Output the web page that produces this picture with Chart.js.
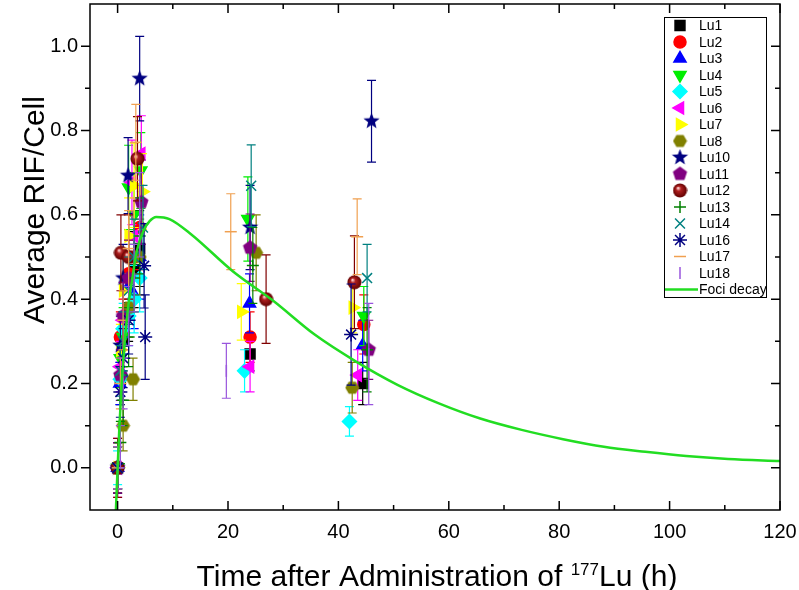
<!DOCTYPE html>
<html>
<head>
<meta charset="utf-8">
<script src="https://cdn.jsdelivr.net/npm/chart.js@4.4.1/dist/chart.umd.min.js"></script>
<style>
  html, body { margin: 0; padding: 0; background: #fff; }
</style>
</head>
<body>
<canvas id="chart" width="799" height="590"></canvas>
<script>
// Values: time (h), mean RIF/cell, error
const lu1X = [0, 0.5, 1, 2, 3, 4, 24, 44.4];
const lu1Y = [0, 0.21, 0.30, 0.38, 0.47, 0.52, 0.27, 0.20];
const lu1Err = [0.05, 0.06, 0.07, 0.08, 0.09, 0.09, 0.04, 0.05];

const lu2X = [0, 0.5, 1, 2, 3, 4, 24, 44.6];
const lu2Y = [0, 0.31, 0.32, 0.46, 0.50, 0.57, 0.31, 0.34];
const lu2Err = [0.06, 0.06, 0.08, 0.08, 0.10, 0.10, 0.06, 0.07];

const lu3X = [0, 0.4, 1, 2, 3, 4, 23.9, 44.4];
const lu3Y = [0, 0.20, 0.22, 0.43, 0.41, 0.50, 0.39, 0.29];
const lu3Err = [0.05, 0.05, 0.06, 0.08, 0.08, 0.10, 0.07, 0.06];

const lu4X = [0, 0.5, 1, 2, 3, 4.2, 23.6, 44.6];
const lu4Y = [0, 0.26, 0.31, 0.665, 0.60, 0.705, 0.59, 0.36];
const lu4Err = [0.05, 0.07, 0.07, 0.10, 0.10, 0.09, 0.10, 0.07];

const lu5X = [0, 0.5, 1, 2, 3, 4, 23, 42];
const lu5Y = [0, 0.21, 0.33, 0.36, 0.40, 0.45, 0.23, 0.11];
const lu5Err = [0.04, 0.05, 0.06, 0.07, 0.08, 0.08, 0.05, 0.035];

const lu6X = [0, 0.5, 1, 2.6, 3, 4.3, 24, 43.5];
const lu6Y = [0, 0.24, 0.35, 0.677, 0.55, 0.745, 0.24, 0.22];
const lu6Err = [0.07, 0.06, 0.07, 0.10, 0.09, 0.09, 0.06, 0.06];

const lu7X = [0, 0.5, 1, 2, 3, 4.5, 22.4, 42.6];
const lu7Y = [0, 0.28, 0.42, 0.55, 0.67, 0.655, 0.37, 0.38];
const lu7Err = [0.05, 0.06, 0.08, 0.09, 0.10, 0.09, 0.067, 0.06];

const lu8X = [0, 1, 2, 2.8, 4, 25.1, 42.5];
const lu8Y = [0, 0.10, 0.38, 0.21, 0.50, 0.51, 0.19];
const lu8Err = [0.06, 0.06, 0.07, 0.05, 0.09, 0.09, 0.06];

const lu10X = [0, 0.5, 1, 1.9, 4, 24, 46];
const lu10Y = [0, 0.29, 0.45, 0.693, 0.923, 0.57, 0.822];
const lu10Err = [0.06, 0.07, 0.08, 0.09, 0.10, 0.10, 0.097];

const lu11X = [0, 0.5, 1, 2, 4.3, 24, 45.5];
const lu11Y = [0, 0.22, 0.36, 0.45, 0.63, 0.522, 0.28];
const lu11Err = [0.06, 0.06, 0.08, 0.09, 0.10, 0.08, 0.07];

const lu12X = [0, 0.6, 2, 3.6, 26.9, 42.9];
const lu12Y = [0, 0.51, 0.50, 0.733, 0.40, 0.44];
const lu12Err = [0.07, 0.09, 0.10, 0.10, 0.105, 0.11];

const lu13X = [0, 0.5, 1, 2, 3, 4, 24.5, 45.2];
const lu13Y = [0, 0.06, 0.16, 0.31, 0.45, 0.55, 0.48, 0.28];
const lu13Err = [0.05, 0.05, 0.06, 0.07, 0.08, 0.09, 0.09, 0.10];

const lu14X = [0, 0.5, 1, 2, 3, 4.6, 24.2, 45.2];
const lu14Y = [0, 0.23, 0.30, 0.42, 0.50, 0.57, 0.669, 0.45];
const lu14Err = [0.05, 0.06, 0.07, 0.08, 0.09, 0.10, 0.097, 0.08];

const lu16X = [0, 0.5, 1, 2, 4.8, 5.0, 42.3];
const lu16Y = [0, 0.18, 0.26, 0.35, 0.479, 0.31, 0.316];
const lu16Err = [0.05, 0.06, 0.07, 0.08, 0.10, 0.10, 0.12];

const lu17X = [0, 0.5, 1, 2, 3.3, 20.5, 43.4];
const lu17Y = [0, 0.20, 0.35, 0.52, 0.772, 0.56, 0.548];
const lu17Err = [0.05, 0.06, 0.07, 0.09, 0.09, 0.09, 0.09];

const lu18X = [0, 0.5, 1, 2, 3, 4, 19.7, 45.5];
const lu18Y = [0, 0.05, 0.20, 0.36, 0.45, 0.60, 0.23, 0.27];
const lu18Err = [0.05, 0.05, 0.06, 0.07, 0.08, 0.10, 0.065, 0.12];

// fitted foci decay curve
const fociTime = [-0.4, 0, 0.3, 0.7, 1.3, 1.9, 2.8, 3.4, 4.6, 5.8, 7, 9.4, 13.3, 20.8, 28.3, 35.7, 43.2, 50.7, 58.2, 65.7, 73.2, 80.7, 88.1, 95.6, 103, 110.6, 120];
const fociValue = [-0.13, 0, 0.09, 0.19, 0.30, 0.38, 0.46, 0.51, 0.56, 0.585, 0.595, 0.59, 0.554, 0.467, 0.395, 0.316, 0.252, 0.197, 0.153, 0.117, 0.090, 0.068, 0.050, 0.038, 0.028, 0.021, 0.016];

const xTicks = [0, 20, 40, 60, 80, 100, 120];
const xMinor = [10, 30, 50, 70, 90, 110];
const yTicks = [0, 0.2, 0.4, 0.6, 0.8, 1.0];
const yMinor = [0.1, 0.3, 0.5, 0.7, 0.9];

const FONT = "'Liberation Sans', Arial, sans-serif";

// little canvases for the markers chart.js doesn't have
function shape(size, draw) {
  const c = document.createElement('canvas');
  c.width = size; c.height = size;
  draw(c.getContext('2d'), size / 2);
  return c;
}
function polygon(n, r, color, inner) {
  return shape(Math.ceil(r * 2) + 2, (g, m) => {
    g.fillStyle = color;
    g.beginPath();
    const pts = inner ? n * 2 : n;
    for (let i = 0; i < pts; i++) {
      const a = -Math.PI / 2 + i * Math.PI * 2 / pts;
      const rr = inner && i % 2 ? inner : r;
      g.lineTo(m + rr * Math.cos(a), m + rr * Math.sin(a));
    }
    g.closePath();
    g.fill();
  });
}
const hexagon = shape(15, (g, m) => {
  g.fillStyle = '#808000';
  g.beginPath();
  for (let i = 0; i < 6; i++) {
    const a = i * Math.PI / 3;
    g.lineTo(m + 7 * Math.cos(a), m + 7 * Math.sin(a));
  }
  g.closePath();
  g.fill();
});
const star = polygon(5, 8.5, '#000080', 3.6);
const pentagon = polygon(5, 7.5, '#800080');
const sphere = shape(15, (g, m) => {
  const grd = g.createRadialGradient(m - 2, m - 2.5, 0.5, m, m, 7);
  grd.addColorStop(0, '#ffd0d0');
  grd.addColorStop(0.3, '#b02020');
  grd.addColorStop(1, '#600000');
  g.fillStyle = grd;
  g.beginPath();
  g.arc(m, m, 7, 0, Math.PI * 2);
  g.fill();
});

const series = [
  { name: 'Lu1', x: lu1X, y: lu1Y, err: lu1Err, color: '#000000', style: 'rect', rot: 0, r: 7 },
  { name: 'Lu2', x: lu2X, y: lu2Y, err: lu2Err, color: '#ff0000', style: 'circle', rot: 0, r: 6 },
  { name: 'Lu3', x: lu3X, y: lu3Y, err: lu3Err, color: '#0000ff', style: 'triangle', rot: 0, r: 7 },
  { name: 'Lu4', x: lu4X, y: lu4Y, err: lu4Err, color: '#00ee00', style: 'triangle', rot: 180, r: 7 },
  { name: 'Lu5', x: lu5X, y: lu5Y, err: lu5Err, color: '#00ffff', style: 'rectRot', rot: 0, r: 7 },
  { name: 'Lu6', x: lu6X, y: lu6Y, err: lu6Err, color: '#ff00ff', style: 'triangle', rot: -90, r: 7 },
  { name: 'Lu7', x: lu7X, y: lu7Y, err: lu7Err, color: '#ffff00', style: 'triangle', rot: 90, r: 7 },
  { name: 'Lu8', x: lu8X, y: lu8Y, err: lu8Err, color: '#808000', style: hexagon, rot: 0, r: 7 },
  { name: 'Lu10', x: lu10X, y: lu10Y, err: lu10Err, color: '#000080', style: star, rot: 0, r: 8 },
  { name: 'Lu11', x: lu11X, y: lu11Y, err: lu11Err, color: '#800080', style: pentagon, rot: 0, r: 7 },
  { name: 'Lu12', x: lu12X, y: lu12Y, err: lu12Err, color: '#800000', style: sphere, rot: 0, r: 7 },
  { name: 'Lu13', x: lu13X, y: lu13Y, err: lu13Err, color: '#008000', style: 'cross', rot: 0, r: 6 },
  { name: 'Lu14', x: lu14X, y: lu14Y, err: lu14Err, color: '#008080', style: 'crossRot', rot: 0, r: 7 },
  { name: 'Lu16', x: lu16X, y: lu16Y, err: lu16Err, color: '#000080', style: 'star', rot: 0, r: 7 },
  { name: 'Lu17', x: lu17X, y: lu17Y, err: lu17Err, color: '#f0a050', style: 'line', rot: 0, r: 6 },
  { name: 'Lu18', x: lu18X, y: lu18Y, err: lu18Err, color: '#9955dd', style: 'line', rot: 90, r: 6 }
];

const datasets = series.map((s, i) => ({
  label: s.name,
  data: s.x.map((t, k) => ({ x: t, y: s.y[k] })),
  errors: s.err,
  backgroundColor: s.color,
  borderColor: s.color,
  borderWidth: 1.5,
  pointStyle: s.style,
  rotation: s.rot,
  pointRadius: s.r,
  showLine: false,
  order: 20 - i
}));
datasets.push({
  label: 'Foci decay',
  type: 'line',
  data: fociTime.map((t, k) => ({ x: t, y: fociValue[k] })),
  borderColor: '#22dd22',
  borderWidth: 2.5,
  pointRadius: 0,
  cubicInterpolationMode: 'monotone',
  fill: false,
  order: 0
});

const decor = {
  id: 'decor',
  // error bars go under their own markers
  beforeDatasetDraw(chart, args) {
    const ds = chart.data.datasets[args.index];
    if (!ds.errors) return;
    const { ctx, chartArea: a, scales: { x, y } } = chart;
    ctx.save();
    ctx.beginPath();
    ctx.rect(a.left, a.top, a.right - a.left, a.bottom - a.top);
    ctx.clip();
    ctx.strokeStyle = ds.borderColor;
    ctx.lineWidth = 1.2;
    ds.data.forEach((p, i) => {
      const px = x.getPixelForValue(p.x);
      const top = y.getPixelForValue(p.y + ds.errors[i]);
      const bot = y.getPixelForValue(p.y - ds.errors[i]);
      ctx.beginPath();
      ctx.moveTo(px, top); ctx.lineTo(px, bot);
      ctx.moveTo(px - 4.5, top); ctx.lineTo(px + 4.5, top);
      ctx.moveTo(px - 4.5, bot); ctx.lineTo(px + 4.5, bot);
      ctx.stroke();
    });
    ctx.restore();
  },
  afterDraw(chart) {
    const { ctx, chartArea: a, scales: { x, y } } = chart;
    ctx.save();
    ctx.strokeStyle = '#000';
    ctx.lineWidth = 1.5;
    ctx.strokeRect(a.left, a.top, a.right - a.left, a.bottom - a.top);

    ctx.beginPath();
    xTicks.forEach(v => {
      const px = x.getPixelForValue(v);
      ctx.moveTo(px, a.bottom); ctx.lineTo(px, a.bottom - 9);
      ctx.moveTo(px, a.top); ctx.lineTo(px, a.top + 9);
    });
    xMinor.forEach(v => {
      const px = x.getPixelForValue(v);
      ctx.moveTo(px, a.bottom); ctx.lineTo(px, a.bottom - 5);
      ctx.moveTo(px, a.top); ctx.lineTo(px, a.top + 5);
    });
    yTicks.forEach(v => {
      const py = y.getPixelForValue(v);
      ctx.moveTo(a.left - 9, py); ctx.lineTo(a.left, py);
      ctx.moveTo(a.right, py); ctx.lineTo(a.right - 9, py);
    });
    yMinor.forEach(v => {
      const py = y.getPixelForValue(v);
      ctx.moveTo(a.left - 5, py); ctx.lineTo(a.left, py);
      ctx.moveTo(a.right, py); ctx.lineTo(a.right - 5, py);
    });
    ctx.stroke();

    // axis titles
    ctx.fillStyle = '#000';
    ctx.textBaseline = 'middle';
    ctx.textAlign = 'center';
    ctx.font = '30px ' + FONT;
    ctx.save();
    ctx.translate(36, 210);
    ctx.rotate(-Math.PI / 2);
    ctx.fillText('Average RIF/Cell', 0, 0);
    ctx.restore();

    const p1 = 'Time after Administration of ', sup = '177', p2 = 'Lu (h)';
    ctx.textAlign = 'left';
    ctx.textBaseline = 'alphabetic';
    ctx.font = '30px ' + FONT;
    const w1 = ctx.measureText(p1).width, w3 = ctx.measureText(p2).width;
    ctx.font = '17px ' + FONT;
    const w2 = ctx.measureText(sup).width;
    let tx = 437 - (w1 + w2 + w3) / 2;
    const ty = 586;
    ctx.font = '30px ' + FONT;
    ctx.fillText(p1, tx, ty); tx += w1;
    ctx.font = '17px ' + FONT;
    ctx.fillText(sup, tx, ty - 11); tx += w2;
    ctx.font = '30px ' + FONT;
    ctx.fillText(p2, tx, ty);

    // legend box
    const lx = 664, ly = 17, lw = 102, lh = 280;
    ctx.fillStyle = '#fff';
    ctx.fillRect(lx, ly, lw, lh);
    ctx.lineWidth = 1;
    ctx.strokeStyle = '#000';
    ctx.strokeRect(lx + 0.5, ly + 0.5, lw, lh);
    ctx.font = '14px ' + FONT;
    ctx.textBaseline = 'middle';
    series.forEach((s, i) => {
      const cy = 25.5 + i * 16.5;
      ctx.fillStyle = s.color;
      ctx.strokeStyle = s.color;
      ctx.lineWidth = 1.5;
      Chart.helpers.drawPoint(ctx, { pointStyle: s.style, rotation: s.rot, radius: s.r, borderWidth: 1.5 }, 680, cy);
      ctx.fillStyle = '#000';
      ctx.fillText(s.name, 699, cy + 1);
    });
    const fy = 25.5 + 16 * 16.5;
    ctx.strokeStyle = '#22dd22';
    ctx.lineWidth = 2.5;
    ctx.beginPath();
    ctx.moveTo(665, fy); ctx.lineTo(698, fy);
    ctx.stroke();
    ctx.fillStyle = '#000';
    ctx.fillText('Foci decay', 699, fy + 1);
    ctx.restore();
  }
};

new Chart(document.getElementById('chart'), {
  type: 'scatter',
  data: { datasets },
  options: {
    responsive: false,
    animation: false,
    layout: { autoPadding: false, padding: { top: 4, right: 19, left: 0, bottom: 0 } },
    plugins: {
      legend: { display: false },
      tooltip: { enabled: false }
    },
    scales: {
      x: {
        type: 'linear',
        min: -5,
        max: 120,
        afterBuildTicks: s => { s.ticks = xTicks.map(v => ({ value: v })); },
        afterFit: s => { s.height = 80; s.paddingLeft = 0; s.paddingRight = 0; },
        grid: { display: false, drawTicks: false },
        border: { display: false },
        ticks: { color: '#000', font: { size: 20, family: FONT }, padding: 10, maxRotation: 0 }
      },
      y: {
        type: 'linear',
        min: -0.1,
        max: 1.1,
        afterBuildTicks: s => { s.ticks = yTicks.map(v => ({ value: v })); },
        afterFit: s => { s.width = 90; s.paddingTop = 0; s.paddingBottom = 0; },
        grid: { display: false, drawTicks: false },
        border: { display: false },
        ticks: { color: '#000', font: { size: 20, family: FONT }, padding: 12, callback: v => v.toFixed(1) }
      }
    }
  },
  plugins: [decor]
});
</script>
</body>
</html>
